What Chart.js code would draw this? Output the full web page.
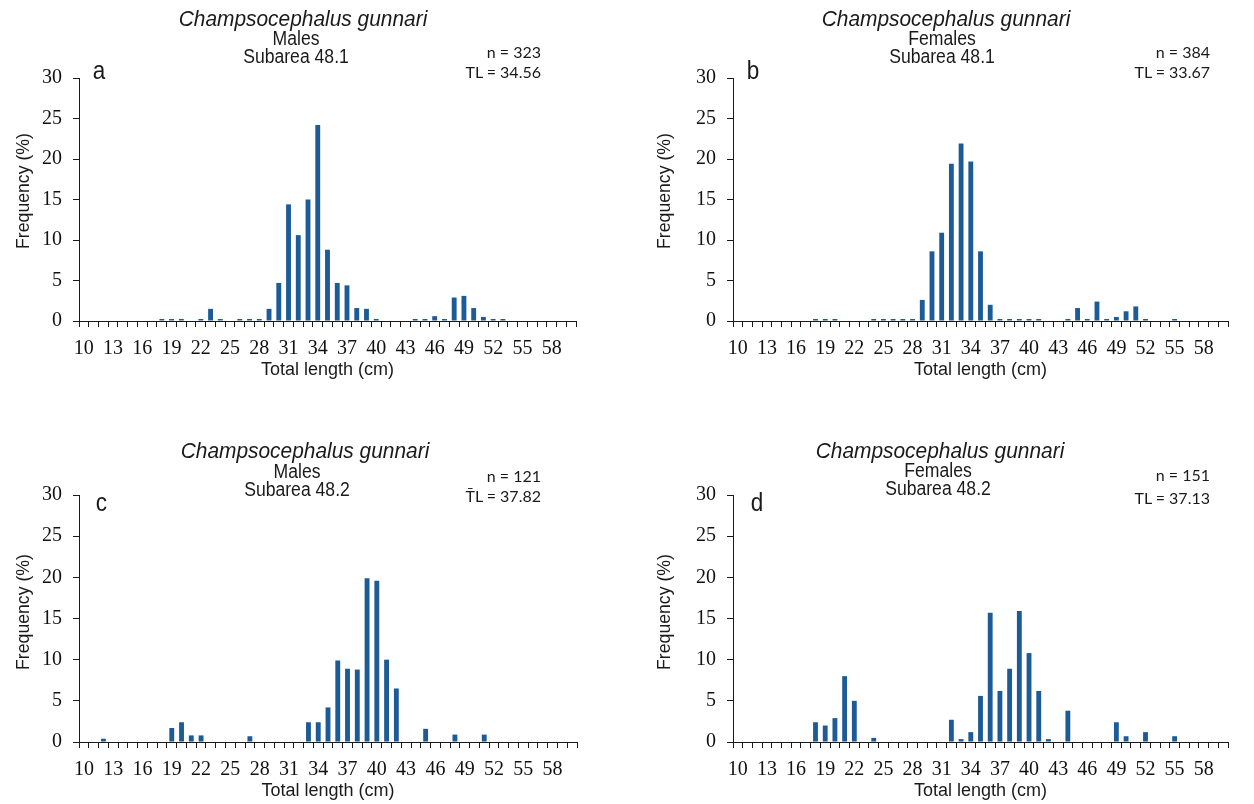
<!DOCTYPE html>
<html>
<head>
<meta charset="utf-8">
<script src="https://cdn.jsdelivr.net/npm/chart.js@4.4.1/dist/chart.umd.min.js"></script>
<style>
    body { margin: 0; background: #fff; width: 1254px; height: 804px; position: relative; overflow: hidden;
           font-family: "Liberation Sans", Arial, sans-serif; color: #1a1a1a; }
    canvas { position: absolute; }
    .t { position: absolute; white-space: nowrap; line-height: 1; }
    .sp { font-style: italic; font-size: 22px; transform: translateX(-50%) scaleX(0.95); }
    .sub { font-size: 20px; transform: translateX(-50%) scaleX(0.88); }
    .lt { font-size: 25px; transform: scaleX(0.9); }
    .st { font-family: Lato, "Open Sans", sans-serif; font-size: 16px; transform: translateX(-100%); }
    .yt { font-size: 19px; transform: translate(-50%, -50%) rotate(-90deg) scaleX(0.93); }
</style>
</head>
<body>
<canvas id="chartA"></canvas>
<canvas id="chartB"></canvas>
<canvas id="chartC"></canvas>
<canvas id="chartD"></canvas>

<div class="t sp" style="left:303px;top:8px">Champsocephalus gunnari</div>
<div class="t sub" style="left:296px;top:28px">Males</div>
<div class="t sub" style="left:296px;top:46px">Subarea 48.1</div>
<div class="t lt" style="left:92px;top:58px">a</div>
<div class="t st" style="left:541px;top:44px">n = 323</div>
<div class="t st" style="left:541px;top:64px">TL = 34.56</div>
<div class="t yt" style="left:22px;top:191px">Frequency (%)</div>

<div class="t sp" style="left:946px;top:8px">Champsocephalus gunnari</div>
<div class="t sub" style="left:942px;top:28px">Females</div>
<div class="t sub" style="left:942px;top:46px">Subarea 48.1</div>
<div class="t lt" style="left:746px;top:58px">b</div>
<div class="t st" style="left:1210px;top:44px">n = 384</div>
<div class="t st" style="left:1210px;top:64px">TL = 33.67</div>
<div class="t yt" style="left:663px;top:191px">Frequency (%)</div>

<div class="t sp" style="left:305px;top:440px">Champsocephalus gunnari</div>
<div class="t sub" style="left:297px;top:461px">Males</div>
<div class="t sub" style="left:297px;top:479px">Subarea 48.2</div>
<div class="t lt" style="left:95px;top:490px">c</div>
<div class="t st" style="left:541px;top:468px">n = 121</div>
<div class="t st" style="left:541px;top:488px">T&#772;L = 37.82</div>
<div class="t yt" style="left:22px;top:612px">Frequency (%)</div>

<div class="t sp" style="left:940px;top:440px">Champsocephalus gunnari</div>
<div class="t sub" style="left:938px;top:460px">Females</div>
<div class="t sub" style="left:938px;top:478px">Subarea 48.2</div>
<div class="t lt" style="left:750px;top:490px">d</div>
<div class="t st" style="left:1210px;top:467px">n = 151</div>
<div class="t st" style="left:1210px;top:490px">TL = 37.13</div>
<div class="t yt" style="left:663px;top:612px">Frequency (%)</div>

<script>
// total length classes (cm)
var lengthClasses = [10, 11, 12, 13, 14, 15, 16, 17, 18, 19, 20, 21, 22, 23, 24, 25, 26, 27, 28, 29,
    30, 31, 32, 33, 34, 35, 36, 37, 38, 39, 40, 41, 42, 43, 44, 45, 46, 47, 48, 49,
    50, 51, 52, 53, 54, 55, 56, 57, 58, 59, 60];

// frequency (%) per length class
var males481 = [0, 0, 0, 0, 0, 0, 0, 0,
    0.25, 0.25, 0.25, 0, 0.25, 1.5, 0.25, 0, 0.25, 0.25, 0.25, 1.5,
    4.7, 14.4, 10.6, 15.0, 24.2, 8.8, 4.7, 4.4, 1.6, 1.5,
    0.25, 0, 0, 0, 0.25, 0.25, 0.6, 0.25, 2.9, 3.1,
    1.6, 0.5, 0.25, 0.25, 0, 0, 0, 0, 0, 0, 0];
var females481 = [0, 0, 0, 0, 0, 0, 0, 0,
    0.25, 0.25, 0.25, 0, 0, 0, 0.25, 0.25, 0.25, 0.25, 0.25, 2.6,
    8.6, 10.9, 19.4, 21.9, 19.7, 8.6, 2.0, 0.25, 0.25, 0.25,
    0.25, 0.25, 0, 0, 0.25, 1.6, 0.25, 2.4, 0.25, 0.5,
    1.2, 1.8, 0.25, 0, 0, 0.25, 0, 0, 0, 0, 0];
var males482 = [0, 0, 0.4, 0, 0, 0, 0, 0,
    0, 1.7, 2.4, 0.8, 0.8, 0, 0, 0, 0, 0.7, 0, 0,
    0, 0, 0, 2.4, 2.4, 4.2, 9.9, 8.9, 8.8, 19.9,
    19.6, 10.0, 6.5, 0, 0, 1.6, 0, 0, 0.9, 0,
    0, 0.9, 0, 0, 0, 0, 0, 0, 0, 0, 0];
var females482 = [0, 0, 0, 0, 0, 0, 0, 0,
    2.4, 2.0, 2.9, 8.0, 5.0, 0, 0.5, 0, 0, 0, 0, 0,
    0, 0, 2.7, 0.35, 1.2, 5.6, 15.7, 6.2, 8.9, 15.9,
    10.8, 6.2, 0.35, 0, 3.8, 0, 0, 0, 0, 2.4,
    0.7, 0, 1.2, 0, 0, 0.7, 0, 0, 0, 0, 0];

var yTicks = [0, 5, 10, 15, 20, 25, 30];

var BAR_COLOR = "#1d5b97";
var AXIS_COLOR = "#1a1a1a";

// panel geometry: canvas box and wanted plot area, page pixels
var panels = [
    { id: "chartA", data: males481, box: [0, 0, 627, 400], area: [79, 78, 576, 321], xTitleY: 370 },
    { id: "chartB", data: females481, box: [627, 0, 627, 400], area: [733, 78, 1228, 321], xTitleY: 370 },
    { id: "chartC", data: males482, box: [0, 400, 627, 404], area: [79, 495, 577, 742], xTitleY: 791 },
    { id: "chartD", data: females482, box: [627, 400, 627, 404], area: [733, 495, 1228, 742], xTitleY: 791 }
];

function buildChart(p) {
    var canvas = document.getElementById(p.id);
    var box = p.box;
    canvas.style.left = box[0] + "px";
    canvas.style.top = box[1] + "px";
    canvas.style.width = box[2] + "px";
    canvas.style.height = box[3] + "px";
    canvas.width = box[2];
    canvas.height = box[3];

    var yWidth = p.area[0] - box[0];
    var xHeight = box[1] + box[3] - p.area[3];
    var titleSize = 18;

    return new Chart(canvas, {
        type: "bar",
        data: {
            labels: lengthClasses,
            datasets: [{
                data: p.data,
                backgroundColor: BAR_COLOR,
                borderWidth: 0,
                barPercentage: 0.5,
                categoryPercentage: 1.0
            }]
        },
        options: {
            responsive: false,
            animation: false,
            events: [],
            layout: {
                padding: {
                    left: 0,
                    top: p.area[1] - box[1],
                    right: box[0] + box[2] - p.area[2],
                    bottom: 0
                }
            },
            plugins: { legend: { display: false }, tooltip: { enabled: false } },
            scales: {
                x: {
                    offset: true,
                    afterFit: function(scale) { scale.height = xHeight; },
                    border: { color: AXIS_COLOR, width: 1 },
                    grid: { drawOnChartArea: false, offset: true, tickLength: 6, tickColor: AXIS_COLOR },
                    ticks: {
                        autoSkip: false,
                        maxRotation: 0,
                        padding: 10,
                        color: "#111",
                        font: { family: "'Liberation Serif', serif", size: 20 },
                        callback: function(val, i) {
                            return i % 3 === 0 ? this.getLabelForValue(val) : "";
                        }
                    },
                    title: {
                        display: true,
                        text: "Total length (cm)",
                        color: "#1a1a1a",
                        font: { family: "'Liberation Sans', Arial, sans-serif", size: titleSize, lineHeight: 1.2 },
                        padding: { top: 0, bottom: box[1] + box[3] - p.xTitleY - titleSize * 0.6 }
                    }
                },
                y: {
                    min: 0,
                    max: 30,
                    afterFit: function(scale) { scale.width = yWidth; },
                    afterBuildTicks: function(scale) {
                        scale.ticks = yTicks.map(function(v) { return { value: v }; });
                    },
                    border: { color: AXIS_COLOR, width: 1 },
                    grid: { drawOnChartArea: false, tickLength: 6, tickColor: AXIS_COLOR },
                    ticks: {
                        padding: 11,
                        color: "#111",
                        font: { family: "'Liberation Serif', serif", size: 20 }
                    }
                }
            }
        }
    });
}

panels.forEach(buildChart);
</script>
</body>
</html>
